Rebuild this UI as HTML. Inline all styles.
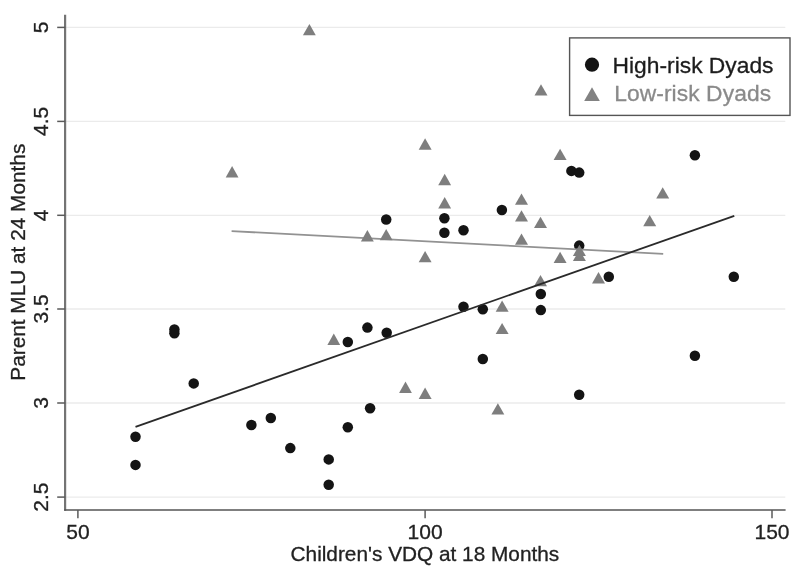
<!DOCTYPE html>
<html><head><meta charset="utf-8"><title>Scatter</title>
<style>
html,body{margin:0;padding:0;background:#fff;}
svg{display:block;filter:blur(0.4px);}
text{font-family:"Liberation Sans",Arial,Helvetica,sans-serif;fill:#222;stroke:#222;stroke-width:0.3px;}
</style></head><body>
<svg width="800" height="574" viewBox="0 0 800 574">
<rect width="800" height="574" fill="#fff"/>
<g id="grid" stroke="#ebebeb" stroke-width="1.3">
<line x1="66" y1="27.4" x2="785.3" y2="27.4"/>
<line x1="66" y1="121.4" x2="785.3" y2="121.4"/>
<line x1="66" y1="215.3" x2="785.3" y2="215.3"/>
<line x1="66" y1="309.0" x2="785.3" y2="309.0"/>
<line x1="66" y1="403.0" x2="785.3" y2="403.0"/>
<line x1="66" y1="497.1" x2="785.3" y2="497.1"/>
</g>
<g id="pts-circ" fill="#141414">
<circle cx="386.2" cy="219.5" r="5.25"/>
<circle cx="444.4" cy="218.3" r="5.25"/>
<circle cx="444.4" cy="232.8" r="5.25"/>
<circle cx="463.5" cy="230.3" r="5.25"/>
<circle cx="501.9" cy="210" r="5.25"/>
<circle cx="571.4" cy="170.9" r="5.25"/>
<circle cx="579.2" cy="172.6" r="5.25"/>
<circle cx="579.2" cy="245.6" r="5.25"/>
<circle cx="694.9" cy="155.3" r="5.25"/>
<circle cx="608.8" cy="276.7" r="5.25"/>
<circle cx="733.8" cy="276.7" r="5.25"/>
<circle cx="174.4" cy="329.4" r="5.25"/>
<circle cx="174.4" cy="333.2" r="5.25"/>
<circle cx="193.7" cy="383.4" r="5.25"/>
<circle cx="347.8" cy="342" r="5.25"/>
<circle cx="367.4" cy="327.6" r="5.25"/>
<circle cx="386.7" cy="332.7" r="5.25"/>
<circle cx="370.1" cy="408.2" r="5.25"/>
<circle cx="270.8" cy="418" r="5.25"/>
<circle cx="251.4" cy="425" r="5.25"/>
<circle cx="347.8" cy="427.3" r="5.25"/>
<circle cx="463.5" cy="306.8" r="5.25"/>
<circle cx="482.8" cy="309.3" r="5.25"/>
<circle cx="540.8" cy="294" r="5.25"/>
<circle cx="540.8" cy="310.1" r="5.25"/>
<circle cx="482.8" cy="359" r="5.25"/>
<circle cx="579.2" cy="394.7" r="5.25"/>
<circle cx="694.9" cy="355.8" r="5.25"/>
<circle cx="135.5" cy="436.8" r="5.25"/>
<circle cx="135.5" cy="464.9" r="5.25"/>
<circle cx="290.3" cy="448.1" r="5.25"/>
<circle cx="328.7" cy="459.4" r="5.25"/>
<circle cx="328.7" cy="484.7" r="5.25"/>
</g>
<line x1="231.6" y1="231.1" x2="663.2" y2="253.9" stroke="#929292" stroke-width="1.8"/>
<g id="pts-tri" fill="#7e7e7e">
<polygon points="309.4,24.0 315.8,35.2 302.9,35.2"/>
<polygon points="541.0,84.3 547.5,95.6 534.5,95.6"/>
<polygon points="232.1,166.1 238.5,177.4 225.7,177.4"/>
<polygon points="367.4,230.1 373.8,241.4 360.9,241.4"/>
<polygon points="386.2,229.0 392.6,240.3 379.8,240.3"/>
<polygon points="425.1,138.3 431.6,149.7 418.7,149.7"/>
<polygon points="444.7,173.8 451.1,185.2 438.2,185.2"/>
<polygon points="444.7,197.1 451.1,208.4 438.2,208.4"/>
<polygon points="425.1,251.0 431.6,262.3 418.7,262.3"/>
<polygon points="521.5,193.4 528.0,204.8 515.0,204.8"/>
<polygon points="521.5,210.2 528.0,221.6 515.0,221.6"/>
<polygon points="521.5,233.5 528.0,244.8 515.0,244.8"/>
<polygon points="540.5,216.7 547.0,228.0 534.0,228.0"/>
<polygon points="540.5,275.0 547.0,286.2 534.0,286.2"/>
<polygon points="560.1,148.7 566.6,160.0 553.6,160.0"/>
<polygon points="560.1,251.8 566.6,263.1 553.6,263.1"/>
<polygon points="579.4,244.7 585.9,256.0 572.9,256.0"/>
<polygon points="579.4,249.8 585.9,261.1 572.9,261.1"/>
<polygon points="598.5,272.1 605.0,283.4 592.0,283.4"/>
<polygon points="662.7,187.2 669.2,198.5 656.2,198.5"/>
<polygon points="649.7,215.0 656.2,226.3 643.2,226.3"/>
<polygon points="333.8,333.6 340.2,344.9 327.4,344.9"/>
<polygon points="502.1,300.4 508.6,311.7 495.7,311.7"/>
<polygon points="502.1,322.9 508.6,334.1 495.7,334.1"/>
<polygon points="405.5,381.6 411.9,392.9 399.1,392.9"/>
<polygon points="425.1,387.6 431.6,398.9 418.7,398.9"/>
<polygon points="497.9,403.3 504.3,414.6 491.4,414.6"/>
</g>
<line x1="135.5" y1="426.9" x2="734.3" y2="215.8" stroke="#2a2a2a" stroke-width="1.8"/>
<g id="axes" stroke="#5a5a5a" stroke-width="1.5" fill="none">
<line x1="65.1" y1="14.8" x2="65.1" y2="510.7" stroke="#747474" stroke-width="2.2"/>
<line x1="64.2" y1="510.1" x2="785.6" y2="510.1" stroke="#555"/>
<line x1="57.2" y1="27.4" x2="65.2" y2="27.4"/>
<line x1="57.2" y1="121.4" x2="65.2" y2="121.4"/>
<line x1="57.2" y1="215.3" x2="65.2" y2="215.3"/>
<line x1="57.2" y1="309.0" x2="65.2" y2="309.0"/>
<line x1="57.2" y1="403.0" x2="65.2" y2="403.0"/>
<line x1="57.2" y1="497.1" x2="65.2" y2="497.1"/>
<line x1="77.9" y1="510" x2="77.9" y2="518.3"/>
<line x1="425.1" y1="510" x2="425.1" y2="518.3"/>
<line x1="772.0" y1="510" x2="772.0" y2="518.3"/>
</g>
<g id="ylabels" font-size="21" text-anchor="middle">
<text transform="translate(48.4,27.4) rotate(-90)">5</text>
<text transform="translate(48.4,121.4) rotate(-90)">4.5</text>
<text transform="translate(48.4,215.3) rotate(-90)">4</text>
<text transform="translate(48.4,309.0) rotate(-90)">3.5</text>
<text transform="translate(48.4,403.0) rotate(-90)">3</text>
<text transform="translate(48.4,497.1) rotate(-90)">2.5</text>
</g>
<g id="xlabels" font-size="21" text-anchor="middle">
<text x="77.9" y="539">50</text>
<text x="425.1" y="539">100</text>
<text x="772.0" y="539">150</text>
</g>
<text x="424.9" y="561.1" font-size="20.8" text-anchor="middle">Children's VDQ at 18 Months</text>
<text transform="translate(24.9,262.2) rotate(-90)" font-size="20.8" text-anchor="middle">Parent MLU at 24 Months</text>
<g id="legend">
<rect x="569.6" y="37.9" width="220.4" height="77.5" fill="#fff" stroke="#555" stroke-width="1.4"/>
<circle cx="592" cy="64.7" r="7.1" fill="#141414"/>
<polygon points="592,87.3 599.8,100.9 584.2,100.9" fill="#828282"/>
<text x="612.6" y="73" font-size="22.8" style="fill:#1c1c1c;stroke:#1c1c1c">High-risk Dyads</text>
<text x="614.2" y="100.8" font-size="22.8" letter-spacing="0.08" style="fill:#8a8a8a;stroke:#8a8a8a">Low-risk Dyads</text>
</g>
</svg></body></html>
